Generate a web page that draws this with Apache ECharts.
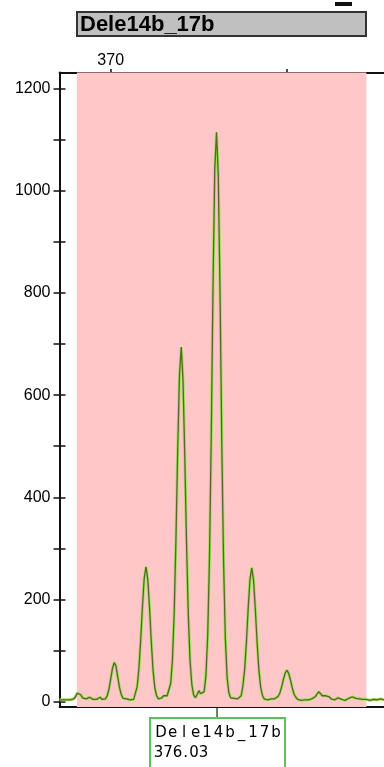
<!DOCTYPE html>
<html><head><meta charset="utf-8">
<script src="https://cdn.jsdelivr.net/npm/echarts@6/dist/echarts.min.js"></script>
<style>html,body{margin:0;padding:0;background:#fff}#c{width:384px;height:767px}</style>
</head><body><div id="c"></div>
<script>
const positions = [
 367.1,367.2,367.3,367.4,367.5,367.6,367.7,367.8,367.9,368.0,
 368.1,368.2,368.3,368.4,368.5,368.6,368.7,368.8,368.9,369.0,
 369.1,369.2,369.3,369.4,369.5,369.6,369.7,369.8,369.9,370.0,
 370.1,370.2,370.3,370.4,370.5,370.6,370.7,370.8,370.9,371.0,
 371.1,371.2,371.3,371.4,371.5,371.6,371.7,371.8,371.9,372.0,
 372.1,372.2,372.3,372.4,372.5,372.6,372.7,372.8,372.9,373.0,
 373.1,373.2,373.3,373.4,373.5,373.6,373.7,373.8,373.9,374.0,
 374.1,374.2,374.3,374.4,374.5,374.6,374.7,374.8,374.9,375.0,
 375.1,375.2,375.3,375.4,375.5,375.6,375.7,375.8,375.9,376.0,
 376.1,376.2,376.3,376.4,376.5,376.6,376.7,376.8,376.9,377.0,
 377.1,377.2,377.3,377.4,377.5,377.6,377.7,377.8,377.9,378.0,
 378.1,378.2,378.3,378.4,378.5,378.6,378.7,378.8,378.9,379.0,
 379.1,379.2,379.3,379.4,379.5,379.6,379.7,379.8,379.9,380.0,
 380.1,380.2,380.3,380.4,380.5,380.6,380.7,380.8,380.9,381.0,
 381.1,381.2,381.3,381.4,381.5,381.6,381.7,381.8,381.9,382.0,
 382.1,382.2,382.3,382.4,382.5,382.6,382.7,382.8,382.9,383.0,
 383.1,383.2,383.3,383.4,383.5,383.6,383.7,383.8,383.9,384.0,
 384.1,384.2,384.3,384.4,384.5,384.6,384.7,384.8,384.9,385.0,
 385.1,385.2,385.3,385.4,385.5
];
const heights = [
 4,7,4,3,4,3,4,5,6,10,
 17,20,14,8,5,6,7,9,6,5,
 6,5,8,9,5,4,6,12,25,45,
 66,77,70,48,28,14,7,5,6,5,
 4,5,5,8,30,66,121,187,242,264,
 240,185,118,62,28,12,6,5,8,12,
 14,12,15,36,82,175,320,495,640,694,
 630,480,310,170,80,34,14,8,14,22,
 16,14,20,52,130,280,515,810,1040,1114,
 1030,800,505,275,125,48,18,8,5,7,
 9,6,5,12,32,65,120,185,240,262,
 238,182,118,64,30,13,6,5,4,5,
 6,5,6,8,11,18,30,45,57,62,
 55,42,27,15,9,5,4,3,5,4,
 6,4,5,6,8,10,15,20,19,12,
 9,12,14,10,6,5,4,6,8,7,
 5,4,3,5,7,9,10,8,7,6,
 6,5,5,6,5,4,3,3,5,6,
 4,5,6,5,4
];
const yTickLabels = [0, 200, 400, 600, 800, 1000, 1200];
const xTickLabels = [370];
const binRange = [368.08, 384.5];
const panelTitle = 'Dele14b_17b';
const markerName = 'Dele14b_17b';
const markerPos = 376.03;
const markerLabel = '376.03';

const chart = echarts.init(document.getElementById('c'), null, {renderer: 'canvas'});
const pairs = positions.map((x, i) => [x, heights[i]]);
const FONT = 'Liberation Sans, Arial, sans-serif';
const BOXFONT = 'DejaVu Sans, sans-serif';
const axisLineStyle = {color: '#111', width: 2};

chart.setOption({
  animation: false,
  grid: [
    {left: 59.6, right: 0, top: 72.5, bottom: 60},
    {left: 65.5, right: 0, top: 88.3, bottom: 65.1},
    {left: 110.7, right: 97.0, top: 79, height: 10}
  ],
  xAxis: [
    {gridIndex: 0, type: 'value', position: 'bottom', min: 367.1, max: 385.5,
     axisLine: {show: true, onZero: false, lineStyle: axisLineStyle},
     axisTick: {show: false}, axisLabel: {show: false}, splitLine: {show: false}},
    {gridIndex: 0, type: 'value', position: 'top', min: 367.1, max: 385.5,
     axisLine: {show: true, onZero: false, lineStyle: axisLineStyle},
     axisTick: {show: false}, axisLabel: {show: false}, splitLine: {show: false}},
    {gridIndex: 1, type: 'value', min: 0, max: 1, show: false},
    {gridIndex: 2, type: 'value', position: 'top', min: 370, max: 380, interval: 10,
     axisLine: {show: false, onZero: false},
     axisTick: {show: true, length: 10, lineStyle: {color: '#111', width: 1.5}},
     axisLabel: {show: true, margin: 10, fontSize: 16, fontFamily: FONT, color: '#000',
       formatter: v => xTickLabels.includes(v) ? String(v) : ''},
     splitLine: {show: false}}
  ],
  yAxis: [
    {gridIndex: 0, type: 'value', min: -10, max: 1231,
     axisLine: {show: true, onZero: false, lineStyle: axisLineStyle},
     axisTick: {show: false}, axisLabel: {show: false}, splitLine: {show: false}},
    {gridIndex: 1, type: 'value', min: 0, max: 1200, interval: 100,
     axisLine: {show: false, onZero: false},
     axisTick: {show: true, length: 12, lineStyle: {color: '#111', width: 1.5}},
     axisLabel: {show: true, margin: 15, fontSize: 16, fontFamily: FONT, color: '#000',
       formatter: v => yTickLabels.includes(v) ? String(v) : ''},
     splitLine: {show: false}},
    {gridIndex: 2, type: 'value', min: 0, max: 1, show: false}
  ],
  series: [
    {type: 'line', xAxisIndex: 0, yAxisIndex: 0, data: [], z: 1, silent: true,
     markArea: {silent: true, itemStyle: {color: '#ffc7c7', opacity: 1},
       data: [[{xAxis: binRange[0]}, {xAxis: binRange[1]}]]}},
    {type: 'line', xAxisIndex: 0, yAxisIndex: 0, data: pairs, symbol: 'none', z: 2,
     lineStyle: {color: '#a6dc62', width: 3}},
    {type: 'line', xAxisIndex: 0, yAxisIndex: 0, data: pairs, symbol: 'none', z: 3,
     lineStyle: {color: '#56682a', width: 1.3}}
  ]
});

const p = chart.convertToPixel({xAxisIndex: 0, yAxisIndex: 0}, [markerPos, -10]);
const mx = p[0], my = p[1];
const g = [
  {type: 'rect', shape: {x: 335, y: 2, width: 17, height: 4}, style: {fill: '#111'}},
  {type: 'rect', shape: {x: 77, y: 12, width: 289, height: 24},
   style: {fill: '#c0c0c0', stroke: '#333', lineWidth: 2}},
  {type: 'text', x: 80, y: 24.5, style: {text: panelTitle, font: 'bold 22px ' + FONT,
   fill: '#000', verticalAlign: 'middle'}},
  {type: 'line', shape: {x1: mx, y1: my, x2: mx, y2: my + 11},
   style: {stroke: '#2f5a2f', lineWidth: 1.5}},
  {type: 'rect', shape: {x: mx - 67, y: my + 11, width: 135, height: 60},
   style: {fill: '#fff', stroke: '#5cc05c', lineWidth: 2}}
];
markerName.split('').forEach((ch, i) => {
  g.push({type: 'text', x: mx - 56 + 11.5 * i, y: my + 26,
    style: {text: ch, font: '15px ' + BOXFONT, fill: '#000', align: 'center', verticalAlign: 'middle'}});
});
const off2 = [-58.5, -49, -39.5, -31.5, -23, -13.5];
markerLabel.split('').forEach((ch, i) => {
  g.push({type: 'text', x: mx + off2[i], y: my + 46,
    style: {text: ch, font: '15px ' + BOXFONT, fill: '#000', align: 'center', verticalAlign: 'middle'}});
});
chart.setOption({graphic: g});
</script>
</body></html>
